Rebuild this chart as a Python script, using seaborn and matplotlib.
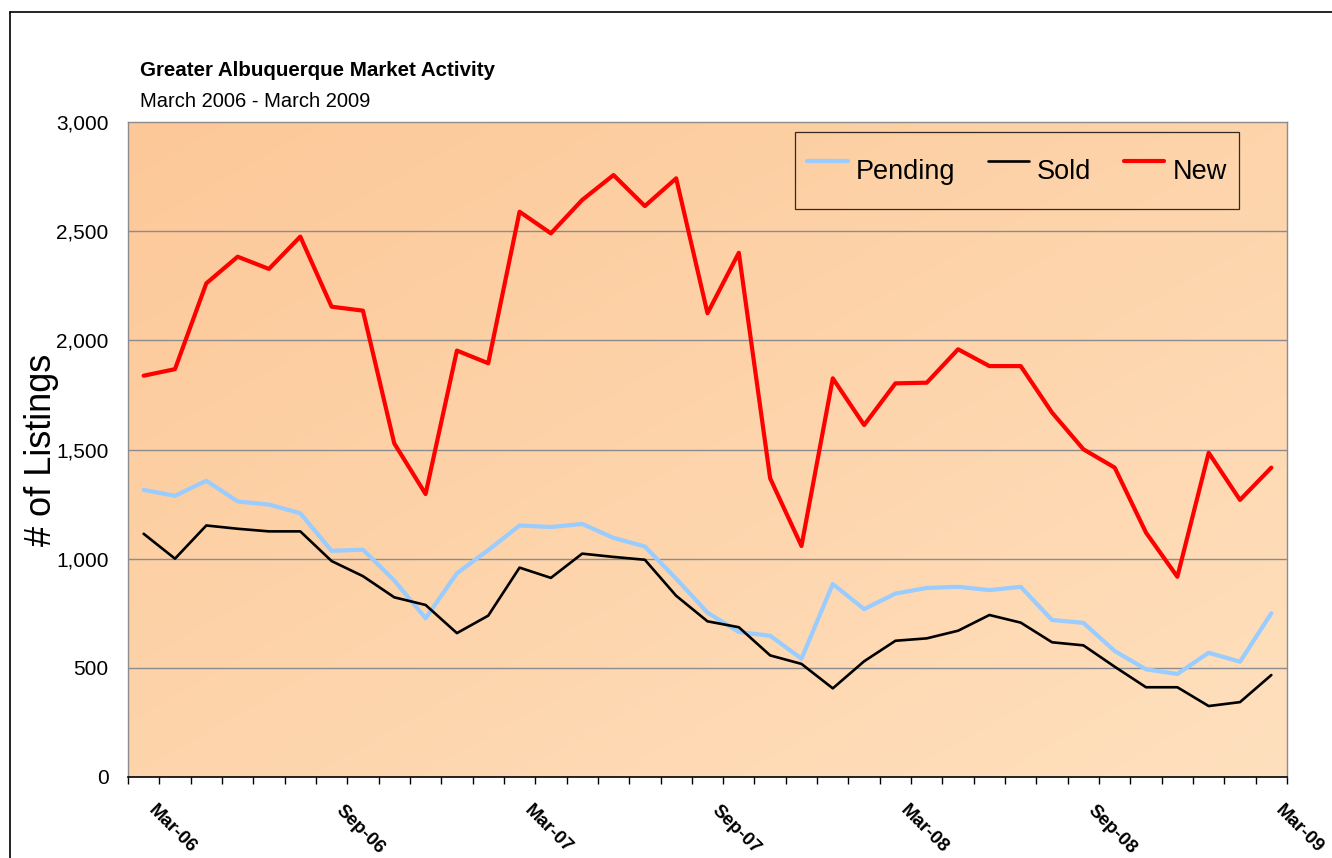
import numpy as np
import pandas as pd
import seaborn as sns
import matplotlib.pyplot as plt
from matplotlib.lines import Line2D
from matplotlib.transforms import ScaledTranslation

# monthly listings, Mar-06 .. Mar-09
months = pd.date_range("2006-03-01", periods=37, freq="MS").strftime("%b-%y").tolist()
pending = [1315, 1288, 1357, 1262, 1248, 1208, 1036, 1041, 900, 727, 933, 1039,
           1152, 1145, 1159, 1095, 1056, 908, 753, 664, 647, 542, 884, 769,
           840, 866, 871, 856, 871, 719, 706, 577, 493, 472, 569, 528, 750]
sold = [1114, 1000, 1152, 1137, 1125, 1125, 989, 920, 823, 788, 659, 739,
        959, 912, 1023, 1008, 995, 830, 713, 686, 557, 518, 406, 530,
        624, 635, 670, 742, 707, 617, 603, 505, 411, 411, 325, 343, 467]
new = [1838, 1868, 2261, 2383, 2327, 2475, 2154, 2136, 1528, 1296, 1953, 1895,
       2589, 2490, 2643, 2757, 2615, 2742, 2124, 2401, 1368, 1058, 1826, 1612,
       1803, 1806, 1959, 1882, 1882, 1669, 1501, 1417, 1119, 917, 1485, 1269, 1417]
series = ["Pending", "Sold", "New"]
colors = {"Pending": "#99CCFF", "Sold": "#000000", "New": "#FF0000"}
widths = {"Pending": 3.0, "Sold": 1.9, "New": 3.0}
yticks = [0, 500, 1000, 1500, 2000, 2500, 3000]

df = pd.DataFrame({"idx": list(range(len(months))) * 3,
                   "month": months * 3,
                   "value": pending + sold + new,
                   "series": np.repeat(series, len(months))})

sns.set_style("white")
plt.rcParams['font.family'] = ['Liberation Sans', 'DejaVu Sans']
plt.rcParams.update({'text.color': 'black', 'axes.labelcolor': 'black',
                     'xtick.color': 'black', 'ytick.color': 'black'})

fig = plt.figure(figsize=(13.32, 8.58), dpi=100)
ax = fig.add_axes([128 / 1332, 1 - 777 / 858, 1159 / 1332, 655 / 858])

# peach gradient of the plot area
n = 256
gx, gy = np.meshgrid(np.linspace(0, 1, n), np.linspace(0, 1, n))
t = (gx + gy) / 2
c0 = np.array([252, 200, 152]) / 255
c1 = np.array([255, 224, 190]) / 255
grad = c0 + (c1 - c0) * t[..., None]
ax.imshow(grad, extent=(0, 1, 0, 1), transform=ax.transAxes, aspect='auto',
          origin='upper', zorder=0)

for y in yticks[1:-1]:
    ax.axhline(y, color="#8C8C8C", lw=1.0, zorder=1)

for s in series:
    sns.lineplot(data=df[df.series == s], x="idx", y="value", color=colors[s],
                 lw=widths[s], label=s, ax=ax, zorder=3)

ax.set_xlim(-0.5, len(months) - 0.5)
ax.set_ylim(0, 3000)
ax.set_yticks(yticks)
ax.set_yticklabels([f"{v:,}" for v in yticks], fontsize=15)
ax.tick_params(axis='y', length=0, pad=14)

lab_idx = list(range(0, len(months), 6))
ax.set_xticks(lab_idx)
ax.set_xticklabels([months[i] for i in lab_idx], rotation=-45, ha='left',
                   va='center', rotation_mode='anchor', fontsize=13.5,
                   fontweight='bold')
ax.set_xticks(np.arange(-0.5, len(months), 1), minor=True)
ax.tick_params(axis='x', which='major', length=0, pad=22)
ax.tick_params(axis='x', which='minor', length=5, width=1, color='black',
               bottom=True, direction='out')
for lab in ax.get_xticklabels():
    lab.set_transform(lab.get_transform() + ScaledTranslation(0.07, 0, fig.dpi_scale_trans))

ax.set_xlabel("")
ax.set_ylabel("# of Listings", fontsize=26, labelpad=-2)

for side in ["left", "right", "top"]:
    ax.spines[side].set_visible(True)
    ax.spines[side].set_color("#8C8C8C")
    ax.spines[side].set_linewidth(1.0)
ax.spines["bottom"].set_color("black")
ax.spines["bottom"].set_linewidth(1.2)

leg = ax.legend(loc='upper left', bbox_to_anchor=(0.5755, 0.9847),
                borderaxespad=0, ncol=3, fontsize=19.5, frameon=True,
                fancybox=False, handlelength=1.5, handletextpad=0.3,
                columnspacing=1.2, handleheight=2.6, borderpad=0.45)
leg.get_frame().set_facecolor('none')
leg.get_frame().set_edgecolor('black')
leg.get_frame().set_linewidth(0.9)

fig.text(140 / 1332, 1 - 76 / 858, "Greater Albuquerque Market Activity",
         fontsize=14.8, fontweight='bold', ha='left', va='baseline')
fig.text(140 / 1332, 1 - 107 / 858, "March 2006 - March 2009",
         fontsize=14.5, ha='left', va='baseline')

# outer chart border
fig.add_artist(Line2D([10 / 1332, 10 / 1332], [0, 1 - 12 / 858], color='black', lw=1.2))
fig.add_artist(Line2D([10 / 1332, 1], [1 - 12 / 858, 1 - 12 / 858], color='black', lw=1.2))

fig.savefig("out.png", dpi=100)
